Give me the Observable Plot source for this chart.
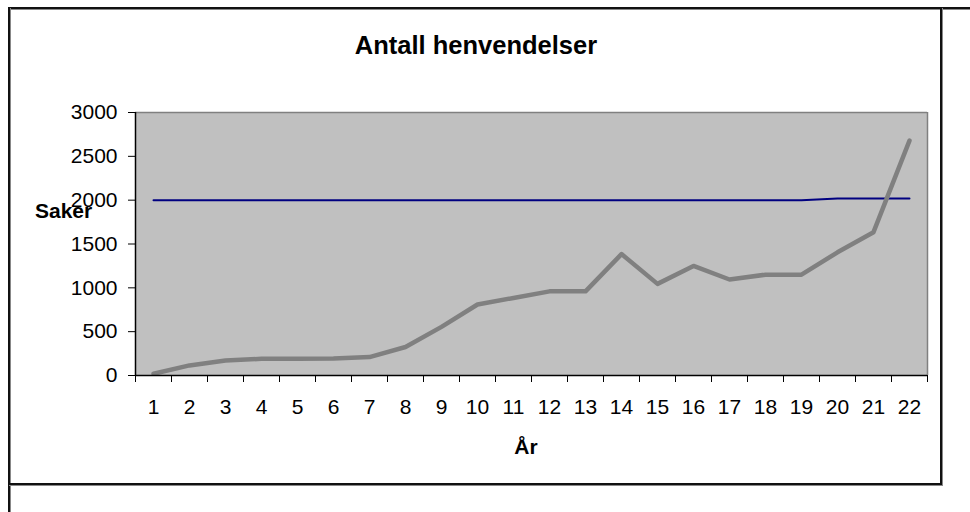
<!DOCTYPE html>
<html>
<head>
<meta charset="utf-8">
<script src="https://cdn.jsdelivr.net/npm/d3@7"></script>
<script src="https://cdn.jsdelivr.net/npm/@observablehq/plot@0.6"></script>
<style>
  body { margin: 0; background: #fff; font-family: "Liberation Sans", Arial, sans-serif; }
  #wrap { position: relative; width: 970px; height: 512px; overflow: hidden; }
  #wrap svg { position: absolute; left: 0; top: 0; }
  .b { position: absolute; background: #111; box-shadow: 1px 1px 0 #888; }
  .t { position: absolute; font-weight: bold; color: #000; white-space: nowrap; line-height: 1; }
</style>
</head>
<body>
<div id="wrap">
  <div id="chart"></div>
  <div class="b" style="left:8px;top:7px;width:962px;height:2px;"></div>
  <div class="b" style="left:8px;top:7px;width:2px;height:505px;"></div>
  <div class="b" style="left:940px;top:7px;width:2px;height:478px;"></div>
  <div class="b" style="left:8px;top:483px;width:934px;height:2px;"></div>
  <div class="t" id="title" style="left:476px;top:33px;font-size:25.5px;transform:translateX(-50%);"></div>
  <div class="t" id="ylab" style="left:35px;top:200px;font-size:21px;"></div>
  <div class="t" id="xlab" style="left:526px;top:436px;font-size:21px;transform:translateX(-50%);"></div>
</div>
<script>
const titleText = "Antall henvendelser";
const yLabelText = "Saker";
const xLabelText = "År";

const years = [1, 2, 3, 4, 5, 6, 7, 8, 9, 10, 11, 12, 13, 14, 15, 16, 17, 18, 19, 20, 21, 22];
const xTickLabels = ["1","2","3","4","5","6","7","8","9","10","11","12","13","14","15","16","17","18","19","20","21","22"];
const saker = [20, 115, 170, 190, 190, 195, 210, 325, 555, 810, 885, 960, 960, 1385, 1045, 1250, 1095, 1150, 1150, 1405, 1635, 2680];
const maal = [2000, 2000, 2000, 2000, 2000, 2000, 2000, 2000, 2000, 2000, 2000, 2000, 2000, 2000, 2000, 2000, 2000, 2000, 2000, 2020, 2020, 2020];
const yTicks = [0, 500, 1000, 1500, 2000, 2500, 3000];
const yTickLabels = ["0", "500", "1000", "1500", "2000", "2500", "3000"];

document.getElementById("title").textContent = titleText;
document.getElementById("ylab").textContent = yLabelText;
document.getElementById("xlab").textContent = xLabelText;

const data = years.map((y, i) => ({year: y, saker: saker[i], maal: maal[i]}));
const xMin = years[0] - 0.5, xMax = years[years.length - 1] + 0.5;
const boundaries = years.map(d => d - 0.5).concat([xMax]);
const yMax = yTicks[yTicks.length - 1];

const chart = Plot.plot({
  width: 970,
  height: 512,
  marginLeft: 135,
  marginRight: 43,
  marginTop: 112,
  marginBottom: 137,
  x: {domain: [xMin, xMax]},
  y: {domain: [0, yMax]},
  style: {fontFamily: "'Liberation Sans', Arial, sans-serif", fontSize: "21px", background: "transparent", color: "#000"},
  marks: [
    Plot.frame({fill: "#c0c0c0", stroke: null}),
    Plot.ruleY([yMax], {stroke: "#808080", strokeWidth: 1.5}),
    Plot.ruleX([xMax], {stroke: "#808080", strokeWidth: 1.5}),
    Plot.line(data, {x: "year", y: "maal", stroke: "#000080", strokeWidth: 2}),
    Plot.line(data, {x: "year", y: "saker", stroke: "#808080", strokeWidth: 4.5}),
    Plot.axisY({ticks: yTicks, tickSize: 7, tickPadding: 11, label: null, stroke: "#000", strokeOpacity: 1,
      tickFormat: d => yTickLabels[yTicks.indexOf(d)]}),
    Plot.axisX({ticks: boundaries, tickSize: 7, tickFormat: () => "", label: null, stroke: "#000", strokeOpacity: 1}),
    Plot.axisX({ticks: years, tickSize: 0, tickPadding: 24, label: null, tickFormat: d => xTickLabels[years.indexOf(d)]}),
    Plot.ruleX([xMin], {stroke: "#000", strokeWidth: 1.5}),
    Plot.ruleY([0], {stroke: "#000", strokeWidth: 1.5})
  ]
});
document.getElementById("chart").appendChild(chart);
</script>
</body>
</html>
